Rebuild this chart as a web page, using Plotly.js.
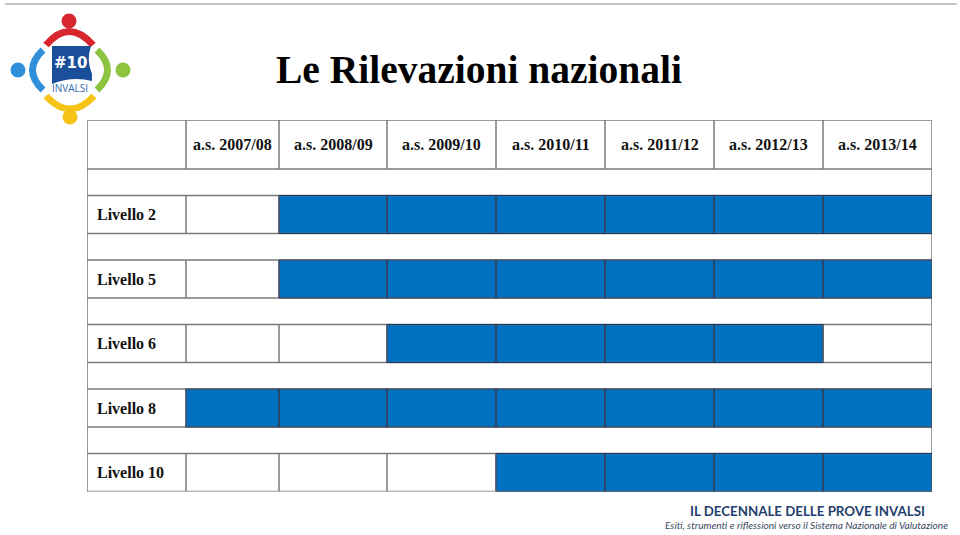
<!DOCTYPE html>
<html>
<head>
<meta charset="utf-8">
<script src="https://cdn.plot.ly/plotly-3.0.1.min.js"></script>
<style>html,body{margin:0;padding:0;background:#fff;}#chart{width:960px;height:535px;}</style>
</head>
<body>
<div id="chart"></div>
<script>
// ---- data ----
const title = 'Le Rilevazioni nazionali';
const years = ['a.s. 2007/08','a.s. 2008/09','a.s. 2009/10','a.s. 2010/11','a.s. 2011/12','a.s. 2012/13','a.s. 2013/14'];
const levels = ['Livello 2','Livello 5','Livello 6','Livello 8','Livello 10'];
// 1 = rilevazione svolta in quell'anno scolastico
const livello2  = [0,1,1,1,1,1,1];
const livello5  = [0,1,1,1,1,1,1];
const livello6  = [0,0,1,1,1,1,0];
const livello8  = [1,1,1,1,1,1,1];
const livello10 = [0,0,0,1,1,1,1];
const surveyed = [livello2, livello5, livello6, livello8, livello10];
const footerTitle = 'IL DECENNALE DELLE PROVE INVALSI';
const footerSub = 'Esiti, strumenti e riflessioni verso il Sistema Nazionale di Valutazione';

// ---- layout geometry (sizes, not data) ----
const W = 960, H = 535;
const colWidths = [99, 93, 108, 109, 109, 109, 109, 109];
const headerH = 49, spacerH = 26.5, rowH = 38;
const tableLeft = 87, tableTop = 120;

const xEdges = [0];
colWidths.forEach(w => xEdges.push(xEdges[xEdges.length-1] + w));
const rowHeights = [headerH];
levels.forEach(() => { rowHeights.push(spacerH); rowHeights.push(rowH); });
const yEdges = [0];
rowHeights.forEach(h => yEdges.push(yEdges[yEdges.length-1] + h));
const tw = xEdges[xEdges.length-1], th = yEdges[yEdges.length-1];

// z matrix: header + spacer rows null, level rows 0/1 (first col = label column)
const z = rowHeights.map(() => colWidths.map(() => null));
levels.forEach((lv, i) => {
  const r = 2 + i*2;
  z[r][0] = 0;
  surveyed[i].forEach((v, j) => { z[r][j+1] = v; });
});

const GRAY = '#7a7a7a', NAVY = '#1c3660', BLUE = '#0070C0';
const shapes = [];
yEdges.forEach(y => shapes.push({type:'line', xref:'x', yref:'y', x0:0, x1:tw, y0:y, y1:y, line:{color:GRAY, width:1.5}}));
[0, tw].forEach(x => shapes.push({type:'line', xref:'x', yref:'y', x0:x, x1:x, y0:0, y1:th, line:{color:GRAY, width:1.5}}));
const fullRows = [0].concat(levels.map((_, i) => 2 + i*2));
fullRows.forEach(r => {
  xEdges.slice(1, -1).forEach(x => shapes.push({type:'line', xref:'x', yref:'y', x0:x, x1:x, y0:yEdges[r], y1:yEdges[r+1], line:{color:GRAY, width:1.5}}));
});
levels.forEach((lv, i) => {
  const r = 2 + i*2;
  surveyed[i].forEach((v, j) => {
    if (v) shapes.push({type:'rect', xref:'x', yref:'y', x0:xEdges[j+1], x1:xEdges[j+2], y0:yEdges[r], y1:yEdges[r+1], line:{color:NAVY, width:1}});
  });
});

// ---- logo & decorations (paper coords) ----
const px = x => x / W, py = y => 1 - y / H;
function path(cmds) {
  return cmds.map(c => c[0] + c.slice(1).map((v, k) => (k % 2 ? py(v) : px(v))).reduce((s, v, k) => s + (k === 0 ? '' : (k % 2 ? ',' : ' ')) + v, '')).join(' ');
}
function circ(cx, cy, r, color) {
  return {type:'circle', xref:'paper', yref:'paper', x0:px(cx-r), x1:px(cx+r), y0:py(cy+r), y1:py(cy-r), fillcolor:color, line:{width:0}};
}
function arc(a, c, b, color) {
  return {type:'path', xref:'paper', yref:'paper', path: path([['M', a[0], a[1]], ['Q', c[0], c[1], b[0], b[1]]]), line:{color:color, width:7}};
}
shapes.push({type:'line', xref:'paper', yref:'paper', x0:px(5), x1:px(957), y0:py(4), y1:py(4), line:{color:'#8a8a8a', width:1}});
shapes.push(circ(69, 21, 7.5, '#D8262E'));
shapes.push(circ(18, 70, 7.5, '#2F8FD8'));
shapes.push(circ(123, 70, 7.5, '#8CC43F'));
shapes.push(circ(70, 117, 7.5, '#F5C316'));
shapes.push(arc([46, 45], [69, 18], [93, 45], '#D8262E'));
shapes.push(arc([43, 50], [22, 70], [43, 90], '#2F8FD8'));
shapes.push(arc([97, 50], [118, 70], [97, 90], '#8CC43F'));
shapes.push(arc([46, 96], [70, 122], [94, 96], '#F5C316'));
shapes.push({type:'path', xref:'paper', yref:'paper', fillcolor:'#1C4F9A', line:{width:0},
  path: path([['M',52,46],['L',91,46],['Q',86,60,92,74],['L',92,81],['Q',72,76,52,84]]) + ' Z'});

const annotations = [];
const A = (o) => Object.assign({showarrow:false, xanchor:'center', yanchor:'middle'}, o);
years.forEach((y, j) => annotations.push(A({xref:'x', yref:'y', x:(xEdges[j+1]+xEdges[j+2])/2, y:(yEdges[0]+yEdges[1])/2,
  text:'<b>'+y+'</b>', font:{family:'Liberation Serif', size:16, color:'#111'}})));
levels.forEach((lv, i) => { const r = 2 + i*2; annotations.push(A({xref:'x', yref:'y', x:8, y:(yEdges[r]+yEdges[r+1])/2, xanchor:'left',
  text:'<b>'+lv+'</b>', font:{family:'Liberation Serif', size:16, color:'#111'}})); });
annotations.push(A({xref:'paper', yref:'paper', x:px(478.5), y:py(70), text:'<b>'+title+'</b>', font:{family:'Liberation Serif', size:39.5, color:'#000'}}));
annotations.push(A({xref:'paper', yref:'paper', x:px(807), y:py(511), text:'<b>'+footerTitle+'</b>', font:{family:'Lato', size:13.3, color:'#1F3F6E'}}));
annotations.push(A({xref:'paper', yref:'paper', x:px(806.5), y:py(525), text:'<i>'+footerSub+'</i>', font:{family:'Lato', size:10.1, color:'#3A4660'}}));
annotations.push(A({xref:'paper', yref:'paper', x:px(70), y:py(63), text:'<b>#10</b>', font:{family:'DejaVu Sans', size:15, color:'#fff'}}));
annotations.push(A({xref:'paper', yref:'paper', x:px(70), y:py(88), text:'INVALSI', font:{family:'Open Sans', size:10, color:'#2F6DB5'}}));

const trace = {type:'heatmap', x:xEdges, y:yEdges, z:z, zmin:0, zmax:1,
  colorscale:[[0,'#ffffff'],[1,BLUE]], showscale:false, hoverinfo:'skip'};

const layout = {
  width:W, height:H, margin:{l:0, r:0, t:0, b:0}, paper_bgcolor:'#fff', plot_bgcolor:'#fff',
  xaxis:{domain:[px(tableLeft), px(tableLeft+tw)], range:[0, tw], visible:false, fixedrange:true},
  yaxis:{domain:[py(tableTop+th), py(tableTop)], range:[th, 0], visible:false, fixedrange:true},
  shapes:shapes, annotations:annotations, showlegend:false
};
Plotly.newPlot('chart', [trace], layout, {displayModeBar:false, staticPlot:true});
</script>
</body>
</html>
